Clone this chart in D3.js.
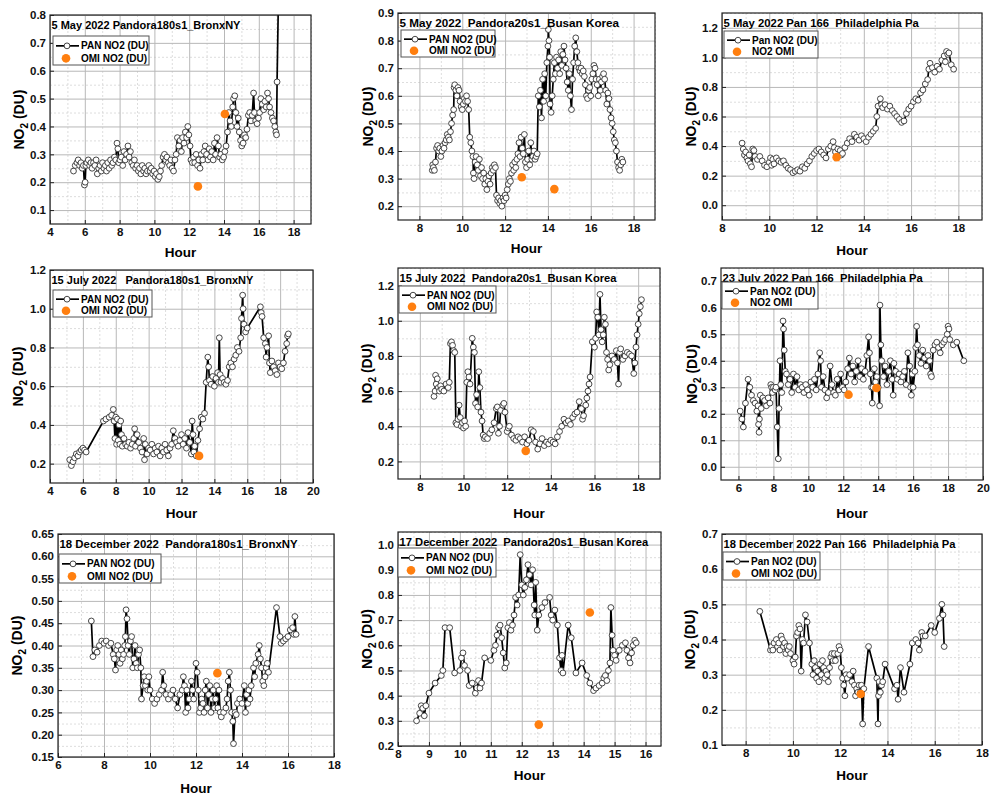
<!DOCTYPE html>
<meta charset="utf-8">
<style>
  body { margin: 0; background: #fff; }
  svg { font-family: "Liberation Sans", Arial, sans-serif; }
  .axis text { font-weight: bold; font-size: 11.5px; fill: #111; }
  .axis line { stroke: #222; }
  .domain { display: none; }
  .frame { fill: none; stroke: #222; stroke-width: 1.2px; }
  .major line { stroke: #b8b8b8; stroke-width: 1px; }
  .minor line { stroke: #d4d4d4; stroke-width: 0.8px; stroke-dasharray: 2,2; }
  .pan { fill: none; stroke: #000; stroke-width: 1.7px; }
  .mark { fill: #fff; stroke: #333; stroke-width: 0.9px; }
  .omi { fill: #ff7f0f; }
  .title { font-weight: bold; font-size: 11px; white-space: pre; }
  .legend text { font-weight: bold; font-size: 10px; }
  .legend rect { fill: #fff; stroke: #555; stroke-width: 1px; }
  .label { font-weight: bold; font-size: 13.5px; }
  .ylab { font-weight: bold; font-size: 14px; }
</style>
<svg width="1004" height="805"></svg>
<script src="https://d3js.org/d3.v7.min.js"></script>
<script>

  // ---- data: [hour, NO2 (DU)] ----
  var bronxMay = [[5.35,.24],[5.45,.26],[5.55,.27],[5.62,.28],[5.7,.26],[5.78,.27],[5.85,.25],[5.92,.26],[5.98,.19],[6.02,.2],[6.06,.26],[6.12,.27],[6.2,.28],[6.28,.26],[6.35,.27],[6.42,.25],[6.5,.27],[6.58,.26],[6.65,.28],[6.72,.23],[6.8,.25],[6.88,.26],[6.95,.24],[7.02,.27],[7.1,.25],[7.18,.26],[7.25,.24],[7.32,.27],[7.4,.25],[7.48,.28],[7.55,.26],[7.62,.27],[7.7,.29],[7.78,.28],[7.85,.34],[7.9,.32],[7.95,.27],[8.02,.28],[8.1,.29],[8.18,.26],[8.25,.31],[8.32,.28],[8.4,.3],[8.48,.33],[8.55,.29],[8.62,.31],[8.7,.27],[8.78,.26],[8.85,.28],[8.92,.25],[9.0,.26],[9.08,.24],[9.15,.25],[9.22,.23],[9.3,.26],[9.38,.24],[9.45,.25],[9.52,.23],[9.6,.24],[9.68,.26],[9.75,.24],[9.82,.25],[9.9,.23],[9.98,.24],[10.05,.22],[10.12,.23],[10.2,.21],[10.28,.22],[10.35,.24],[10.42,.26],[10.5,.29],[10.58,.3],[10.65,.28],[10.72,.29],[10.8,.27],[10.88,.26],[10.95,.28],[11.02,.25],[11.1,.24],[11.18,.28],[11.25,.3],[11.32,.36],[11.4,.33],[11.48,.35],[11.55,.31],[11.62,.36],[11.7,.34],[11.78,.38],[11.85,.36],[11.92,.4],[11.98,.37],[12.05,.33],[12.1,.28],[12.18,.27],[12.25,.29],[12.32,.27],[12.4,.3],[12.48,.26],[12.55,.28],[12.62,.25],[12.7,.3],[12.78,.28],[12.85,.31],[12.92,.33],[13.0,.3],[13.08,.28],[13.15,.32],[13.22,.29],[13.3,.31],[13.38,.28],[13.45,.34],[13.52,.3],[13.6,.36],[13.68,.33],[13.75,.29],[13.82,.3],[13.9,.28],[13.98,.29],[14.05,.31],[14.12,.33],[14.2,.38],[14.28,.45],[14.35,.42],[14.42,.4],[14.5,.47],[14.55,.5],[14.62,.51],[14.68,.45],[14.75,.4],[14.82,.43],[14.88,.38],[14.95,.35],[15.02,.33],[15.1,.34],[15.18,.37],[15.25,.36],[15.32,.39],[15.4,.44],[15.48,.45],[15.55,.42],[15.62,.44],[15.7,.52],[15.75,.45],[15.82,.42],[15.9,.41],[15.98,.43],[16.05,.45],[16.12,.5],[16.2,.48],[16.28,.46],[16.35,.49],[16.42,.47],[16.5,.52],[16.56,.5],[16.62,.47],[16.7,.45],[16.78,.43],[16.85,.42],[16.92,.4],[16.98,.38],[17.02,.37],[17.05,.56],[17.15,.95]];
  var bronxMayOMI = [[12.5,.185],[14.05,.445]];

  var busanMay = [[8.6,.33],[8.62,.35],[8.65,.34],[8.7,.33],[8.75,.36],[8.8,.41],[8.85,.42],[8.9,.4],[8.95,.41],[9.0,.38],[9.05,.4],[9.1,.42],[9.15,.41],[9.2,.43],[9.25,.44],[9.3,.46],[9.35,.45],[9.4,.44],[9.45,.47],[9.5,.5],[9.55,.53],[9.6,.55],[9.62,.63],[9.65,.64],[9.7,.62],[9.75,.6],[9.8,.63],[9.85,.62],[9.9,.58],[9.95,.56],[10.0,.55],[10.05,.57],[10.1,.59],[10.15,.58],[10.2,.6],[10.25,.58],[10.3,.55],[10.35,.45],[10.4,.43],[10.45,.4],[10.5,.38],[10.52,.32],[10.55,.3],[10.6,.36],[10.65,.38],[10.7,.35],[10.75,.33],[10.8,.37],[10.85,.31],[10.9,.34],[10.95,.3],[11.0,.32],[11.05,.28],[11.1,.3],[11.15,.26],[11.2,.29],[11.25,.31],[11.3,.28],[11.35,.32],[11.4,.34],[11.45,.33],[11.5,.35],[11.55,.34],[11.6,.24],[11.65,.22],[11.7,.23],[11.75,.21],[11.8,.22],[11.85,.2],[11.9,.23],[11.95,.22],[12.0,.24],[12.05,.23],[12.1,.26],[12.15,.28],[12.2,.3],[12.25,.29],[12.3,.32],[12.35,.35],[12.4,.33],[12.45,.36],[12.5,.34],[12.55,.37],[12.6,.39],[12.65,.43],[12.7,.38],[12.75,.45],[12.8,.41],[12.85,.39],[12.9,.46],[12.95,.36],[13.0,.34],[13.05,.37],[13.1,.4],[13.15,.35],[13.2,.43],[13.25,.37],[13.3,.38],[13.35,.4],[13.4,.37],[13.45,.38],[13.5,.39],[13.55,.6],[13.6,.56],[13.65,.62],[13.7,.52],[13.75,.66],[13.8,.58],[13.85,.68],[13.9,.6],[13.95,.72],[14.0,.78],[14.02,.84],[14.05,.8],[14.08,.74],[14.1,.57],[14.15,.54],[14.2,.6],[14.25,.66],[14.3,.72],[14.35,.68],[14.4,.74],[14.45,.7],[14.5,.73],[14.55,.68],[14.6,.76],[14.65,.71],[14.7,.75],[14.75,.78],[14.8,.73],[14.85,.7],[14.9,.65],[14.95,.62],[15.0,.68],[15.05,.6],[15.1,.55],[15.15,.66],[15.2,.72],[15.25,.78],[15.3,.81],[15.35,.76],[15.4,.72],[15.45,.7],[15.5,.69],[15.55,.7],[15.6,.68],[15.65,.69],[15.7,.67],[15.75,.64],[15.8,.6],[15.85,.59],[15.9,.62],[15.95,.63],[16.0,.6],[16.05,.66],[16.1,.68],[16.15,.71],[16.2,.7],[16.25,.66],[16.3,.64],[16.35,.6],[16.4,.66],[16.45,.62],[16.5,.65],[16.55,.67],[16.6,.68],[16.65,.66],[16.7,.62],[16.75,.57],[16.8,.61],[16.85,.59],[16.9,.55],[16.95,.52],[17.0,.5],[17.05,.47],[17.1,.44],[17.15,.43],[17.2,.4],[17.25,.36],[17.3,.34],[17.35,.33],[17.4,.35],[17.45,.37],[17.5,.36]];
  var busanMayOMI = [[12.78,.305],[14.3,.262]];

  var phillyMay = [[8.85,.42],[8.9,.38],[8.95,.34],[9.0,.36],[9.05,.32],[9.1,.3],[9.15,.34],[9.2,.28],[9.25,.26],[9.3,.38],[9.35,.37],[9.4,.33],[9.5,.31],[9.6,.33],[9.7,.3],[9.8,.27],[9.9,.26],[10.0,.29],[10.05,.32],[10.1,.27],[10.15,.31],[10.2,.28],[10.3,.32],[10.4,.3],[10.5,.29],[10.6,.3],[10.7,.27],[10.8,.25],[10.9,.24],[11.0,.22],[11.1,.23],[11.2,.24],[11.3,.23],[11.4,.26],[11.5,.25],[11.6,.28],[11.7,.3],[11.8,.33],[11.9,.35],[12.0,.37],[12.1,.38],[12.2,.36],[12.3,.34],[12.4,.32],[12.5,.38],[12.6,.4],[12.7,.43],[12.75,.39],[12.8,.36],[12.9,.38],[13.0,.37],[13.05,.34],[13.1,.35],[13.2,.39],[13.3,.42],[13.4,.45],[13.5,.43],[13.6,.48],[13.7,.46],[13.8,.44],[13.9,.47],[14.0,.45],[14.1,.43],[14.2,.46],[14.3,.48],[14.4,.5],[14.5,.52],[14.55,.6],[14.6,.67],[14.7,.72],[14.75,.68],[14.8,.66],[14.9,.68],[15.0,.65],[15.1,.67],[15.2,.64],[15.3,.62],[15.4,.6],[15.5,.58],[15.6,.56],[15.7,.57],[15.8,.62],[15.9,.65],[16.0,.67],[16.1,.7],[16.2,.72],[16.3,.71],[16.4,.76],[16.5,.78],[16.6,.82],[16.7,.85],[16.75,.92],[16.8,.96],[16.9,.93],[17.0,.9],[17.1,.94],[17.2,.92],[17.3,.98],[17.4,1.01],[17.45,.97],[17.5,1.04],[17.55,1.02],[17.6,1.03],[17.7,.95],[17.8,.92]];
  var phillyMayOMI = [[12.85,.325]];

  var bronxJul = [[5.2,.22],[5.3,.19],[5.4,.21],[5.5,.23],[5.6,.25],[5.7,.24],[5.8,.26],[5.9,.27],[6.0,.28],[6.1,.27],[6.2,.26],[7.25,.42],[7.4,.43],[7.6,.44],[7.75,.45],[7.85,.48],[7.9,.42],[7.95,.33],[8.0,.44],[8.05,.3],[8.1,.43],[8.15,.32],[8.2,.4],[8.25,.3],[8.3,.42],[8.35,.35],[8.4,.29],[8.5,.33],[8.6,.3],[8.7,.29],[8.8,.31],[8.9,.28],[9.0,.3],[9.1,.33],[9.15,.38],[9.2,.29],[9.3,.35],[9.4,.31],[9.5,.28],[9.6,.26],[9.7,.33],[9.75,.22],[9.8,.3],[9.9,.25],[10.0,.28],[10.1,.27],[10.2,.3],[10.3,.25],[10.4,.28],[10.5,.26],[10.6,.29],[10.7,.24],[10.8,.28],[10.9,.26],[11.0,.3],[11.1,.27],[11.2,.24],[11.3,.28],[11.4,.3],[11.5,.37],[11.6,.33],[11.7,.31],[11.8,.29],[11.9,.32],[12.0,.35],[12.1,.3],[12.2,.33],[12.3,.28],[12.4,.36],[12.5,.31],[12.6,.25],[12.65,.42],[12.7,.35],[12.75,.26],[12.8,.29],[12.9,.24],[13.0,.32],[13.1,.38],[13.2,.44],[13.3,.43],[13.4,.46],[13.5,.62],[13.6,.75],[13.65,.7],[13.7,.63],[13.8,.61],[13.9,.65],[14.0,.6],[14.1,.64],[14.2,.67],[14.25,.62],[14.3,.85],[14.35,.66],[14.4,.62],[14.5,.64],[14.6,.62],[14.7,.61],[14.8,.63],[14.9,.7],[15.0,.72],[15.1,.7],[15.2,.74],[15.3,.76],[15.4,.8],[15.5,.78],[15.6,.85],[15.65,.95],[15.72,1.07],[15.75,1.0],[15.8,.92],[15.9,.88],[16.0,.9],[16.8,1.01],[16.85,.98],[16.9,.96],[17.0,.85],[17.1,.82],[17.15,.75],[17.2,.8],[17.3,.86],[17.35,.72],[17.4,.67],[17.5,.73],[17.6,.7],[17.7,.68],[17.8,.66],[17.9,.72],[18.0,.7],[18.1,.69],[18.2,.72],[18.3,.78],[18.4,.82],[18.45,.86],[18.5,.87]];
  var bronxJulOMI = [[13.07,.24]];

  var busanJul = [[8.65,.57],[8.7,.6],[8.72,.69],[8.75,.64],[8.8,.67],[8.85,.62],[8.9,.6],[8.95,.63],[9.0,.61],[9.1,.6],[9.2,.64],[9.3,.62],[9.35,.65],[9.4,.87],[9.45,.88],[9.5,.86],[9.55,.83],[9.6,.82],[9.65,.42],[9.7,.41],[9.75,.44],[9.8,.52],[9.85,.45],[9.9,.4],[9.95,.42],[10.0,.39],[10.05,.43],[10.1,.4],[10.15,.65],[10.2,.71],[10.25,.68],[10.3,.64],[10.4,.9],[10.45,.85],[10.5,.82],[10.55,.53],[10.6,.58],[10.65,.51],[10.7,.71],[10.75,.62],[10.8,.48],[10.85,.43],[10.9,.35],[10.95,.33],[11.0,.34],[11.1,.33],[11.2,.36],[11.3,.38],[11.4,.42],[11.5,.5],[11.55,.51],[11.6,.36],[11.65,.4],[11.7,.49],[11.8,.52],[11.85,.53],[11.9,.48],[12.0,.37],[12.05,.39],[12.1,.4],[12.2,.35],[12.3,.33],[12.4,.32],[12.5,.34],[12.6,.33],[12.7,.31],[12.8,.34],[12.9,.3],[13.0,.32],[13.1,.38],[13.2,.37],[13.3,.31],[13.4,.27],[13.5,.3],[13.6,.33],[13.7,.29],[13.8,.31],[13.9,.3],[14.0,.32],[14.1,.31],[14.2,.3],[14.3,.34],[14.4,.37],[14.5,.4],[14.6,.44],[14.7,.42],[14.8,.43],[14.9,.41],[15.0,.45],[15.1,.47],[15.2,.48],[15.3,.54],[15.4,.5],[15.45,.44],[15.5,.46],[15.6,.52],[15.65,.56],[15.7,.6],[15.75,.64],[15.8,.68],[15.9,.88],[16.0,.85],[16.05,.9],[16.1,1.05],[16.15,1.02],[16.2,.92],[16.25,1.15],[16.3,.95],[16.35,.88],[16.4,.92],[16.45,1.02],[16.5,.98],[16.55,.82],[16.6,.78],[16.65,.72],[16.7,.75],[16.8,.8],[16.9,.78],[17.0,.83],[17.05,.76],[17.1,.64],[17.15,.82],[17.2,.84],[17.3,.78],[17.4,.8],[17.5,.82],[17.6,.81],[17.7,.8],[17.8,.7],[17.85,.76],[17.9,.85],[17.95,.92],[18.0,.98],[18.05,1.04],[18.1,1.08],[18.15,1.12]];
  var busanJulOMI = [[12.85,.26]];

  var phillyJul = [[6.1,.21],[6.2,.18],[6.28,.15],[6.4,.24],[6.55,.33],[6.65,.3],[6.75,.27],[6.85,.25],[6.95,.24],[7.05,.21],[7.12,.23],[7.15,.16],[7.18,.13],[7.2,.18],[7.25,.27],[7.3,.22],[7.4,.26],[7.5,.25],[7.6,.23],[7.7,.26],[7.8,.24],[7.85,.31],[7.9,.3],[7.95,.28],[8.0,.3],[8.1,.29],[8.15,.3],[8.22,.15],[8.28,.03],[8.32,.22],[8.38,.4],[8.42,.31],[8.48,.28],[8.55,.55],[8.58,.52],[8.62,.44],[8.68,.36],[8.75,.35],[8.85,.31],[8.95,.33],[9.05,.28],[9.15,.35],[9.25,.3],[9.35,.34],[9.45,.29],[9.55,.31],[9.65,.3],[9.75,.28],[9.85,.31],[9.95,.29],[10.05,.27],[10.15,.32],[10.25,.3],[10.35,.33],[10.45,.29],[10.55,.35],[10.65,.43],[10.7,.4],[10.75,.3],[10.85,.34],[10.95,.29],[11.05,.26],[11.15,.28],[11.25,.38],[11.35,.31],[11.45,.28],[11.55,.27],[11.65,.33],[11.75,.29],[11.85,.35],[11.95,.3],[12.05,.29],[12.15,.32],[12.25,.37],[12.35,.41],[12.45,.35],[12.55,.38],[12.65,.32],[12.75,.36],[12.85,.4],[12.95,.34],[13.05,.37],[13.15,.33],[13.25,.36],[13.35,.42],[13.45,.49],[13.5,.43],[13.55,.35],[13.62,.3],[13.66,.24],[13.7,.3],[13.78,.37],[13.85,.32],[13.92,.34],[14.0,.3],[14.08,.23],[14.1,.61],[14.15,.46],[14.2,.4],[14.3,.34],[14.4,.38],[14.5,.31],[14.6,.36],[14.7,.4],[14.8,.33],[14.86,.27],[14.9,.39],[15.0,.36],[15.1,.33],[15.2,.35],[15.3,.32],[15.4,.34],[15.5,.36],[15.6,.31],[15.7,.43],[15.8,.38],[15.85,.3],[15.9,.27],[15.95,.35],[16.0,.3],[16.1,.36],[16.15,.45],[16.2,.53],[16.25,.46],[16.35,.42],[16.45,.39],[16.55,.44],[16.65,.41],[16.75,.38],[16.85,.42],[16.95,.4],[17.0,.35],[17.05,.34],[17.15,.44],[17.25,.46],[17.35,.47],[17.45,.45],[17.55,.43],[17.65,.46],[17.75,.47],[17.85,.48],[17.95,.5],[18.0,.53],[18.05,.52],[18.1,.48],[18.3,.46],[18.5,.47],[18.9,.4]];
  var phillyJulOMI = [[12.3,.272],[13.9,.297]];

  var bronxDec = [[7.45,.455],[7.52,.375],[7.6,.39],[7.7,.385],[7.8,.4],[7.9,.41],[8.0,.405],[8.1,.41],[8.2,.4],[8.3,.405],[8.4,.38],[8.45,.37],[8.5,.345],[8.55,.39],[8.6,.4],[8.65,.38],[8.7,.36],[8.75,.39],[8.8,.37],[8.85,.38],[8.9,.4],[8.93,.42],[8.96,.48],[9.0,.46],[9.05,.4],[9.1,.38],[9.15,.41],[9.2,.42],[9.25,.35],[9.3,.37],[9.35,.4],[9.4,.36],[9.45,.35],[9.5,.38],[9.55,.39],[9.6,.35],[9.63,.28],[9.7,.31],[9.75,.33],[9.8,.31],[9.85,.32],[9.9,.3],[9.95,.33],[10.0,.3],[10.1,.28],[10.2,.27],[10.3,.28],[10.4,.29],[10.5,.3],[10.55,.34],[10.6,.31],[10.7,.29],[10.8,.28],[10.9,.29],[11.0,.3],[11.1,.28],[11.2,.26],[11.3,.29],[11.4,.3],[11.45,.33],[11.5,.31],[11.55,.25],[11.6,.3],[11.65,.26],[11.7,.28],[11.8,.32],[11.85,.3],[11.9,.28],[12.0,.36],[12.05,.34],[12.1,.3],[12.15,.25],[12.2,.26],[12.25,.28],[12.3,.27],[12.35,.25],[12.4,.3],[12.45,.32],[12.5,.26],[12.55,.29],[12.6,.31],[12.65,.25],[12.7,.28],[12.75,.3],[12.8,.26],[12.85,.28],[12.9,.31],[12.95,.26],[13.0,.3],[13.05,.25],[13.1,.24],[13.2,.25],[13.3,.26],[13.35,.28],[13.4,.32],[13.45,.34],[13.5,.3],[13.55,.25],[13.6,.23],[13.63,.18],[13.7,.25],[13.75,.245],[13.8,.27],[13.9,.28],[14.0,.27],[14.1,.31],[14.15,.25],[14.2,.29],[14.25,.27],[14.3,.3],[14.35,.28],[14.4,.31],[14.5,.35],[14.55,.33],[14.6,.36],[14.7,.38],[14.75,.4],[14.8,.37],[14.85,.35],[14.9,.32],[14.95,.31],[15.0,.33],[15.05,.35],[15.1,.36],[15.15,.34],[15.5,.485],[15.65,.42],[15.7,.405],[15.8,.41],[15.9,.415],[16.0,.42],[16.1,.435],[16.2,.44],[16.25,.425],[16.3,.465],[16.35,.425]];
  var bronxDecOMI = [[12.93,.338]];

  var busanDec = [[8.6,.3],[8.7,.33],[8.75,.36],[8.8,.35],[8.85,.32],[8.9,.36],[9.0,.41],[9.2,.45],[9.4,.48],[9.45,.5],[9.52,.67],[9.67,.67],[9.83,.49],[10.0,.5],[10.05,.55],[10.1,.57],[10.15,.52],[10.25,.5],[10.3,.44],[10.4,.45],[10.5,.41],[10.55,.43],[10.6,.46],[10.65,.43],[10.7,.45],[10.8,.55],[11.0,.54],[11.1,.58],[11.15,.6],[11.2,.64],[11.25,.67],[11.3,.68],[11.35,.63],[11.4,.57],[11.45,.51],[11.5,.53],[11.55,.67],[11.6,.69],[11.65,.66],[11.7,.68],[11.75,.72],[11.8,.79],[11.85,.76],[11.9,.8],[11.95,.96],[12.0,.84],[12.05,.8],[12.1,.83],[12.15,.86],[12.2,.92],[12.25,.88],[12.3,.84],[12.35,.9],[12.4,.76],[12.42,.72],[12.45,.85],[12.5,.66],[12.55,.72],[12.65,.75],[12.75,.77],[12.9,.79],[12.95,.72],[13.0,.7],[13.07,.74],[13.15,.68],[13.22,.55],[13.27,.5],[13.3,.56],[13.33,.49],[13.5,.68],[13.6,.63],[13.75,.49],[13.95,.53],[14.1,.48],[14.2,.45],[14.32,.42],[14.4,.43],[14.5,.44],[14.6,.45],[14.65,.47],[14.7,.48],[14.75,.46],[14.8,.5],[14.85,.53],[14.88,.75],[14.92,.64],[14.95,.58],[15.0,.56],[15.05,.54],[15.15,.58],[15.25,.6],[15.35,.61],[15.4,.58],[15.45,.55],[15.5,.53],[15.55,.57],[15.6,.6],[15.65,.62],[15.7,.61]];
  var busanDecOMI = [[12.55,.285],[14.2,.73]];

  var phillyDec = [[8.6,.48],[9.05,.37],[9.1,.38],[9.15,.37],[9.2,.39],[9.3,.4],[9.35,.38],[9.4,.39],[9.45,.37],[9.5,.41],[9.55,.4],[9.6,.38],[9.65,.39],[9.7,.36],[9.75,.38],[9.8,.37],[9.85,.38],[9.9,.36],[10.0,.34],[10.05,.33],[10.1,.35],[10.15,.41],[10.2,.42],[10.25,.44],[10.3,.43],[10.35,.31],[10.4,.4],[10.45,.39],[10.53,.47],[10.6,.45],[10.7,.39],[10.8,.33],[10.85,.3],[10.9,.34],[10.95,.32],[11.0,.29],[11.05,.31],[11.1,.28],[11.15,.33],[11.2,.3],[11.25,.34],[11.3,.32],[11.35,.29],[11.4,.31],[11.45,.3],[11.5,.28],[11.55,.32],[11.6,.35],[11.65,.36],[11.7,.34],[11.75,.36],[11.8,.34],[11.9,.36],[11.95,.38],[12.0,.37],[12.05,.32],[12.1,.29],[12.15,.27],[12.2,.24],[12.25,.3],[12.3,.29],[12.4,.3],[12.5,.28],[12.55,.31],[12.6,.27],[12.65,.24],[12.7,.26],[12.75,.25],[12.8,.27],[12.85,.25],[12.9,.27],[12.95,.16],[13.0,.26],[13.2,.38],[13.55,.29],[13.6,.16],[13.62,.24],[13.65,.28],[13.7,.25],[13.75,.27],[13.8,.28],[13.9,.33],[14.3,.26],[14.4,.27],[14.45,.23],[14.55,.32],[14.7,.25],[14.95,.33],[15.05,.39],[15.2,.4],[15.3,.39],[15.35,.37],[15.45,.42],[15.5,.41],[15.6,.41],[15.85,.44],[16.0,.42],[16.2,.46],[16.3,.5],[16.35,.47],[16.4,.38]];
  var phillyDecOMI = [[12.87,.245]];

  var titles = [
    "5 May 2022 Pandora180s1_BronxNY",
    "5 May 2022  Pandora20s1_Busan Korea",
    "5 May 2022 Pan 166  Philadelphia Pa",
    "15 July 2022   Pandora180s1_BronxNY",
    "15 July 2022  Pandora20s1_Busan Korea",
    "23 July 2022 Pan 166  Philadelphia Pa",
    "18 December 2022  Pandora180s1_BronxNY",
    "17 December 2022  Pandora20s1_Busan Korea",
    "18 December 2022 Pan 166  Philadelphia Pa"
  ];
  var legendPan = ["PAN NO2 (DU)", "PAN NO2 (DU)", "Pan NO2 (DU)", "PAN NO2 (DU)", "PAN NO2 (DU)", "Pan NO2 (DU)", "PAN NO2 (DU)", "PAN NO2 (DU)", "Pan NO2 (DU)"];
  var legendOmi = ["OMI NO2 (DU)", "OMI NO2 (DU)", "NO2 OMI", "OMI NO2 (DU)", "OMI NO2 (DU)", "NO2 OMI", "OMI NO2 (DU)", "OMI NO2 (DU)", "OMI NO2 (DU)"];

  var xTicks = [
    [4, 6, 8, 10, 12, 14, 16, 18],
    [8, 10, 12, 14, 16, 18],
    [8, 10, 12, 14, 16, 18],
    [4, 6, 8, 10, 12, 14, 16, 18, 20],
    [8, 10, 12, 14, 16, 18],
    [6, 8, 10, 12, 14, 16, 18, 20],
    [6, 8, 10, 12, 14, 16, 18],
    [8, 9, 10, 11, 12, 13, 14, 15, 16],
    [8, 10, 12, 14, 16, 18]
  ];
  var yTicks = [
    [0.1, 0.2, 0.3, 0.4, 0.5, 0.6, 0.7, 0.8],
    [0.2, 0.3, 0.4, 0.5, 0.6, 0.7, 0.8, 0.9],
    [0.0, 0.2, 0.4, 0.6, 0.8, 1.0, 1.2],
    [0.2, 0.4, 0.6, 0.8, 1.0, 1.2],
    [0.2, 0.4, 0.6, 0.8, 1.0, 1.2],
    [0.0, 0.1, 0.2, 0.3, 0.4, 0.5, 0.6, 0.7],
    [0.15, 0.2, 0.25, 0.3, 0.35, 0.4, 0.45, 0.5, 0.55, 0.6, 0.65],
    [0.2, 0.3, 0.4, 0.5, 0.6, 0.7, 0.8, 0.9, 1.0],
    [0.1, 0.2, 0.3, 0.4, 0.5, 0.6, 0.7]
  ];

  // ---- layout of each panel (frame box, axis domains, label spots) ----
  var panels = [
    { pan: bronxMay, omi: bronxMayOMI, box: [50, 15, 311, 224], xd: [4, 19], yd: [0.05, 0.8], fmt: ".1f", lg: [53, 36, 96, 29], hourY: 257, no2X: 24, ts: 11 },
    { pan: busanMay, omi: busanMayOMI, box: [398, 13, 655, 220], xd: [7, 19], yd: [0.15, 0.9], fmt: ".1f", lg: [401, 30, 94, 27], hourY: 253, no2X: 373, ts: 11.7 },
    { pan: phillyMay, omi: phillyMayOMI, box: [722, 13, 982, 220], xd: [8, 19], yd: [-0.1, 1.3], fmt: ".1f", lg: [724, 31, 94, 27], hourY: 255, no2X: 696, ts: 11.3 },
    { pan: bronxJul, omi: bronxJulOMI, box: [50, 270, 313, 483], xd: [4, 20], yd: [0.1, 1.2], fmt: ".1f", lg: [53, 290, 99, 27], hourY: 518, no2X: 23, ts: 11 },
    { pan: busanJul, omi: busanJulOMI, box: [398, 268, 660, 479], xd: [7, 19], yd: [0.1, 1.3], fmt: ".1f", lg: [399, 286, 97, 27], hourY: 518, no2X: 372, ts: 11.2 },
    { pan: phillyJul, omi: phillyJulOMI, box: [721, 268, 983, 480], xd: [5, 20], yd: [-0.05, 0.75], fmt: ".1f", lg: [722, 282, 96, 27], hourY: 518, no2X: 697, ts: 11.2 },
    { pan: bronxDec, omi: bronxDecOMI, box: [58, 534, 334, 757], xd: [6, 18], yd: [0.15, 0.65], fmt: ".2f", lg: [59, 554, 102, 29], hourY: 793, no2X: 22, ts: 11.4 },
    { pan: busanDec, omi: busanDecOMI, box: [398, 532, 661, 746], xd: [8, 16.5], yd: [0.2, 1.05], fmt: ".1f", lg: [398, 548, 98, 29], hourY: 780, no2X: 372, ts: 11.2 },
    { pan: phillyDec, omi: phillyDecOMI, box: [722, 534, 982, 745], xd: [7, 18], yd: [0.1, 0.7], fmt: ".1f", lg: [723, 552, 97, 28], hourY: 780, no2X: 695, ts: 11.2 }
  ];

  var svg = d3.select("svg");

  function minors(ticks, dom) {
    var step = ticks[1] - ticks[0], out = [];
    for (var v = ticks[0] - step / 2; v < dom[1] + 1e-9; v += step) {
      if (v > dom[0] + 1e-9) out.push(+v.toFixed(4));
    }
    return out;
  }

  panels.forEach(function (p, i) {
    var x0 = p.box[0], y0 = p.box[1], w = p.box[2] - x0, h = p.box[3] - y0;
    var x = d3.scaleLinear().domain(p.xd).range([0, w]);
    var y = d3.scaleLinear().domain(p.yd).range([h, 0]);
    var g = svg.append("g").attr("transform", "translate(" + x0 + "," + y0 + ")");

    g.append("clipPath").attr("id", "clip" + i)
      .append("rect").attr("width", w).attr("height", h);

    // grid
    g.append("g").attr("class", "minor")
      .call(d3.axisBottom(x).tickValues(minors(xTicks[i], p.xd)).tickSize(h).tickFormat(""));
    g.append("g").attr("class", "minor")
      .call(d3.axisLeft(y).tickValues(minors(yTicks[i], p.yd)).tickSize(-w).tickFormat(""));
    g.append("g").attr("class", "major")
      .call(d3.axisBottom(x).tickValues(xTicks[i]).tickSize(h).tickFormat(""));
    g.append("g").attr("class", "major")
      .call(d3.axisLeft(y).tickValues(yTicks[i]).tickSize(-w).tickFormat(""));

    // axes
    g.append("g").attr("class", "axis").attr("transform", "translate(0," + h + ")")
      .call(d3.axisBottom(x).tickValues(xTicks[i]).tickFormat(d3.format("d"))
        .tickSizeInner(-4).tickSizeOuter(0).tickPadding(4));
    g.append("g").attr("class", "axis")
      .call(d3.axisLeft(y).tickValues(yTicks[i]).tickFormat(d3.format(p.fmt))
        .tickSizeInner(-4).tickSizeOuter(0).tickPadding(4));

    // Pandora series
    var line = d3.line().x(function (d) { return x(d[0]); }).y(function (d) { return y(d[1]); });
    var plot = g.append("g").attr("clip-path", "url(#clip" + i + ")");
    plot.append("path").datum(p.pan).attr("class", "pan").attr("d", line);
    plot.selectAll("circle.mark").data(p.pan).join("circle")
      .attr("class", "mark")
      .attr("cx", function (d) { return x(d[0]); })
      .attr("cy", function (d) { return y(d[1]); })
      .attr("r", 2.9);

    // OMI
    plot.selectAll("circle.omi").data(p.omi).join("circle")
      .attr("class", "omi")
      .attr("cx", function (d) { return x(d[0]); })
      .attr("cy", function (d) { return y(d[1]); })
      .attr("r", 4.3);

    g.append("rect").attr("class", "frame").attr("width", w).attr("height", h);

    g.append("text").attr("class", "title")
      .attr("x", 1.5).attr("y", 13.5)
      .style("font-size", p.ts + "px")
      .text(titles[i]);

    // legend
    var lx = p.lg[0], ly = p.lg[1], lw = p.lg[2], lh = p.lg[3];
    var lg = svg.append("g").attr("class", "legend");
    lg.append("rect").attr("x", lx).attr("y", ly).attr("width", lw).attr("height", lh);
    var r1 = ly + lh * 0.34, r2 = ly + lh * 0.77;
    lg.append("line").attr("x1", lx + 3).attr("x2", lx + 26).attr("y1", r1).attr("y2", r1)
      .attr("stroke", "#000").attr("stroke-width", 1.7);
    lg.append("circle").attr("class", "mark").attr("cx", lx + 14).attr("cy", r1).attr("r", 2.9);
    lg.append("text").attr("x", lx + 28).attr("y", r1 + 3.6).text(legendPan[i]);
    lg.append("circle").attr("class", "omi").attr("cx", lx + 13).attr("cy", r2).attr("r", 4.3);
    lg.append("text").attr("x", lx + 28).attr("y", r2 + 3.6).text(legendOmi[i]);

    // axis titles
    svg.append("text").attr("class", "label")
      .attr("x", x0 + w / 2).attr("y", p.hourY)
      .attr("text-anchor", "middle").text("Hour");
    var yl = svg.append("text").attr("class", "ylab")
      .attr("text-anchor", "middle")
      .attr("transform", "translate(" + p.no2X + "," + (y0 + h / 2) + ") rotate(-90)");
    yl.append("tspan").text("NO");
    yl.append("tspan").attr("font-size", "10px").attr("dy", 4).text("2");
    yl.append("tspan").attr("dy", -4).text(" (DU)");
  });

</script>
